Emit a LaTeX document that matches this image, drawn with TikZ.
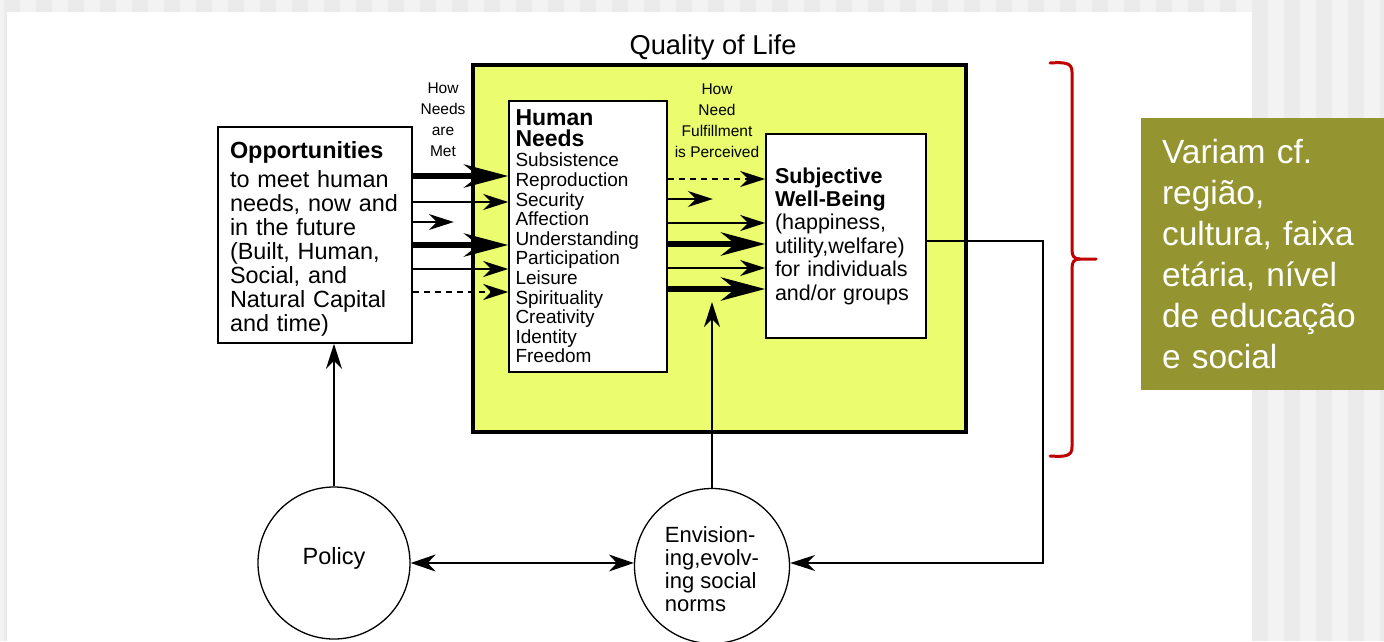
\documentclass[tikz,border=0pt]{standalone}
\usepackage{fontspec}
\setmainfont{Liberation Sans}
\usetikzlibrary{arrows.meta,positioning}
\definecolor{qolyellow}{HTML}{EBFD6E}
\definecolor{noteolive}{HTML}{949430}
\definecolor{bracered}{HTML}{C00000}
\definecolor{stripedark}{HTML}{EBEBEB}
\definecolor{stripelight}{HTML}{F3F3F3}
\tikzset{
  box/.style={draw, fill=white, line width=1.6pt, inner sep=0pt, align=left},
  ring/.style={draw, circle, line width=1.3pt, inner sep=0pt, align=left,
    font=\fontsize{22}{23}\selectfont},
  thickarrow/.style={line width=6.5pt, -{Stealth[length=44pt,width=23pt,inset=14pt]}},
  thinarrow/.style={line width=1.5pt, -{Stealth[length=25pt,width=16pt,inset=8pt]}},
  dasharrow/.style={thinarrow, dash pattern=on 6pt off 5pt},
  twoway/.style={line width=1.5pt, {Stealth[length=25pt,width=17pt,inset=8pt]}-{Stealth[length=25pt,width=17pt,inset=8pt]}},
  howtext/.style={align=center, inner sep=0pt, font=\fontsize{15.5}{21}\selectfont},
  brace/.style={draw=bracered, line width=3pt, line cap=round}
}
\begin{document}
\begin{tikzpicture}[x=1pt,y=-1pt]
  \useasboundingbox (0,0) rectangle (1384,641);
  % slide background
  \fill[stripelight] (0,0) rectangle (1384,641);
  \foreach \sx in {4,36,...,1380}
    \fill[stripedark] (\sx,0) rectangle ++(16,641);
  \fill[white] (7,12) rectangle (1252,641);

  % quality of life frame
  \node[draw, fill=qolyellow, line width=3.5pt, minimum width=493pt, minimum height=367pt] (qol) at (719.5,248.5) {};
  \node[inner sep=0pt, font=\fontsize{27.3}{30}\selectfont] (qoltitle) at (713,47.5) {Quality of Life};

  \node[box, minimum width=194pt, minimum height=216pt, text width=170pt,
    font=\fontsize{23.4}{24}\selectfont] (opp) at (315,235)
    {\rule{0pt}{24pt}\textbf{Opportunities}\\[5pt]to meet human\\needs, now and\\in the future\\(Built, Human,\\Social, and\\Natural Capital\\and time)};
  \node[box, minimum width=158pt, minimum height=271pt, text width=145pt,
    font=\fontsize{19}{19.6}\selectfont] (needs) at (588,236.5)
    {{\fontsize{23}{21}\selectfont\bfseries Human}\\[1.4pt]{\fontsize{23}{21}\selectfont\bfseries Needs}\\[0.6pt]Subsistence\\Reproduction\\Security\\Affection\\Understanding\\Participation\\Leisure\\Spirituality\\Creativity\\Identity\\Freedom};
  \node[box, minimum width=160pt, minimum height=204pt, text width=142pt,
    font=\fontsize{21.5}{23.4}\selectfont] (swb) at (846,236)
    {\textbf{Subjective}\\\textbf{Well-Being}\\(happiness,\\utility,welfare)\\for individuals\\and/or groups};

  \node[howtext] (howmet) at (443,120) {How\\Needs\\are\\Met};
  \node[howtext] (howperc) at (717,121) {How\\Need\\Fulfillment\\is Perceived};

  \node[ring, minimum size=152pt, font=\fontsize{23.5}{24}\selectfont] (pol) at (334,563)
    {\raisebox{5pt}[\height][\depth]{Policy}};
  \node[ring, minimum size=155pt] (env) at (712,566)
    {\rule{0pt}{22pt}Envision-\\ing,evolv-\\ing social\\norms};
  \coordinate (envtip) at (712,302);

  % how needs are met
  \draw[thickarrow] (opp.east |- 0,176) -- (needs.west |- 0,176);
  \draw[thinarrow] (opp.east |- 0,202) -- (needs.west |- 0,202);
  \draw[thinarrow] (opp.east |- 0,222) -- ++(41,0);
  \draw[thickarrow] (opp.east |- 0,245) -- (needs.west |- 0,245);
  \draw[thinarrow] (opp.east |- 0,269) -- (needs.west |- 0,269);
  \draw[dasharrow] (opp.east |- 0,292) -- (needs.west |- 0,292);

  % how fulfillment is perceived
  \draw[dasharrow] (needs.east |- 0,179) -- (swb.west |- 0,179);
  \draw[thinarrow] (needs.east |- 0,199) -- ++(45,0);
  \draw[thinarrow] (needs.east |- 0,223) -- (swb.west |- 0,223);
  \draw[thickarrow] (needs.east |- 0,244) -- (swb.west |- 0,244);
  \draw[thinarrow] (needs.east |- 0,268) -- (swb.west |- 0,268);
  \draw[thickarrow] (needs.east |- 0,289) -- (swb.west |- 0,289);

  % feedback loops
  \draw[thinarrow] (pol.north) -- (pol.north |- opp.south);
  \draw[thinarrow] (env.north) -- (envtip);
  \draw[twoway] (pol.east) -- (pol.east -| env.west);
  \draw[thinarrow] (swb.east |- 0,241) -| (1043,563) -- (env.east |- 0,563);

  % brace and note
  \draw[brace] (1050,63) .. controls (1066,62) and (1072,63) .. (1072,72) -- (1072,250)
    .. controls (1072,256) and (1074,259) .. (1080,259) -- (1096,259);
  \draw[brace] (1050,456) .. controls (1066,457) and (1072,456) .. (1072,447) -- (1072,268)
    .. controls (1072,262) and (1074,259) .. (1080,259);
  \node[fill=noteolive, text=white, minimum width=243pt, minimum height=272pt,
    text width=201pt, inner sep=0pt, align=left,
    font=\fontsize{33.5}{41}\selectfont] (note) at (1262.5,254)
    {Variam cf.\\região,\\cultura, faixa\\etária, nível\\de educação\\e social};
\end{tikzpicture}
\end{document}
